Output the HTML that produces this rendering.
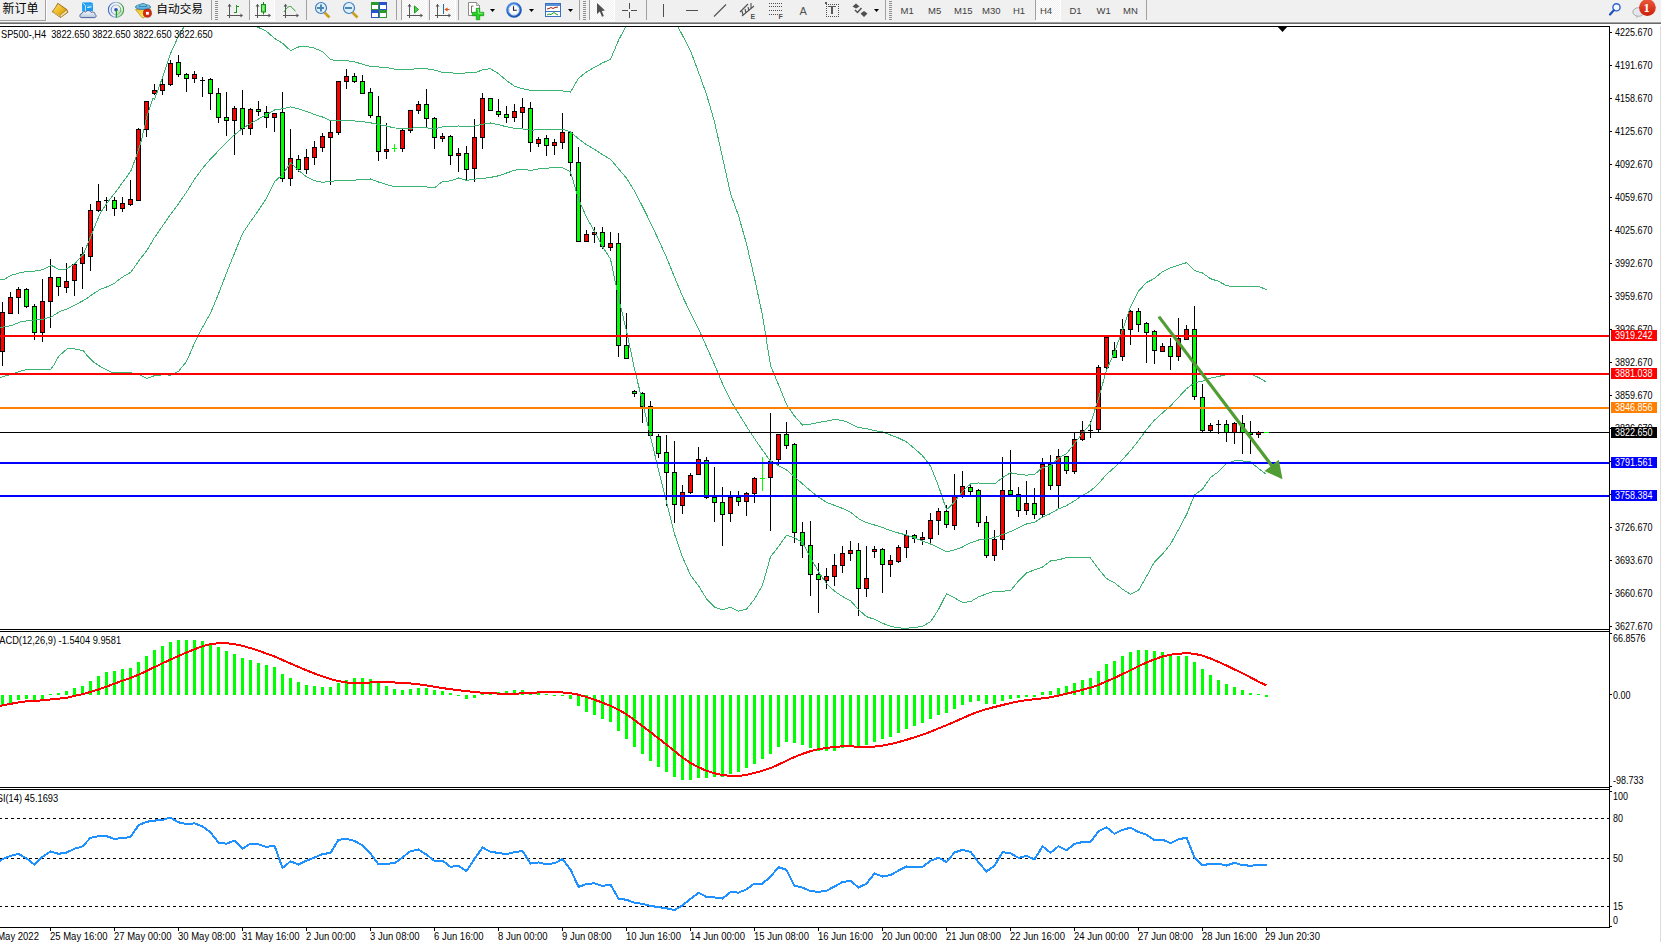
<!DOCTYPE html>
<html><head><meta charset="utf-8"><title>SP500-,H4</title>
<style>html,body{margin:0;padding:0;background:#fff;}body{width:1661px;height:942px;position:relative;overflow:hidden;}svg text{white-space:pre;}</style>
</head><body>
<svg width="1661" height="942" viewBox="0 0 1661 942" shape-rendering="crispEdges" style="position:absolute;left:0;top:0">
<defs><clipPath id="cm"><rect x="0" y="27" width="1609" height="602"/></clipPath><clipPath id="cmacd"><rect x="0" y="632" width="1609" height="155"/></clipPath><clipPath id="crsi"><rect x="0" y="790" width="1609" height="137"/></clipPath></defs>
<g clip-path="url(#cm)">
<rect x="2" y="302" width="1" height="64" fill="#000"/>
<rect x="0" y="312" width="5" height="40" fill="#000"/>
<rect x="1" y="313" width="3" height="38" fill="#ff0000"/>
<rect x="10" y="292" width="1" height="22" fill="#000"/>
<rect x="8" y="297" width="5" height="17" fill="#000"/>
<rect x="9" y="298" width="3" height="15" fill="#ff0000"/>
<rect x="18" y="287" width="1" height="27" fill="#000"/>
<rect x="16" y="289" width="5" height="9" fill="#000"/>
<rect x="17" y="290" width="3" height="7" fill="#ff0000"/>
<rect x="26" y="288" width="1" height="20" fill="#000"/>
<rect x="24" y="289" width="5" height="18" fill="#000"/>
<rect x="25" y="290" width="3" height="16" fill="#00ff00"/>
<rect x="34" y="304" width="1" height="36" fill="#000"/>
<rect x="32" y="306" width="5" height="27" fill="#000"/>
<rect x="33" y="307" width="3" height="25" fill="#00ff00"/>
<rect x="42" y="279" width="1" height="63" fill="#000"/>
<rect x="40" y="301" width="5" height="32" fill="#000"/>
<rect x="41" y="302" width="3" height="30" fill="#ff0000"/>
<rect x="50" y="259" width="1" height="69" fill="#000"/>
<rect x="48" y="277" width="5" height="25" fill="#000"/>
<rect x="49" y="278" width="3" height="23" fill="#ff0000"/>
<rect x="58" y="277" width="1" height="19" fill="#000"/>
<rect x="56" y="277" width="5" height="10" fill="#000"/>
<rect x="57" y="278" width="3" height="8" fill="#00ff00"/>
<rect x="66" y="263" width="1" height="30" fill="#000"/>
<rect x="64" y="281" width="5" height="7" fill="#000"/>
<rect x="65" y="282" width="3" height="5" fill="#ff0000"/>
<rect x="74" y="264" width="1" height="32" fill="#000"/>
<rect x="72" y="264" width="5" height="17" fill="#000"/>
<rect x="73" y="265" width="3" height="15" fill="#ff0000"/>
<rect x="82" y="247" width="1" height="42" fill="#000"/>
<rect x="80" y="254" width="5" height="10" fill="#000"/>
<rect x="81" y="255" width="3" height="8" fill="#ff0000"/>
<rect x="90" y="204" width="1" height="67" fill="#000"/>
<rect x="88" y="210" width="5" height="47" fill="#000"/>
<rect x="89" y="211" width="3" height="45" fill="#ff0000"/>
<rect x="98" y="184" width="1" height="28" fill="#000"/>
<rect x="96" y="201" width="5" height="10" fill="#000"/>
<rect x="97" y="202" width="3" height="8" fill="#ff0000"/>
<rect x="106" y="197" width="1" height="14" fill="#000"/>
<rect x="104" y="200" width="5" height="1" fill="#000"/>
<rect x="114" y="197" width="1" height="19" fill="#000"/>
<rect x="112" y="200" width="5" height="9" fill="#000"/>
<rect x="113" y="201" width="3" height="7" fill="#00ff00"/>
<rect x="122" y="197" width="1" height="15" fill="#000"/>
<rect x="120" y="203" width="5" height="6" fill="#000"/>
<rect x="121" y="204" width="3" height="4" fill="#ff0000"/>
<rect x="130" y="180" width="1" height="26" fill="#000"/>
<rect x="128" y="199" width="5" height="6" fill="#000"/>
<rect x="129" y="200" width="3" height="4" fill="#ff0000"/>
<rect x="138" y="128" width="1" height="73" fill="#000"/>
<rect x="136" y="129" width="5" height="72" fill="#000"/>
<rect x="137" y="130" width="3" height="70" fill="#ff0000"/>
<rect x="146" y="101" width="1" height="36" fill="#000"/>
<rect x="144" y="101" width="5" height="29" fill="#000"/>
<rect x="145" y="102" width="3" height="27" fill="#ff0000"/>
<rect x="154" y="84" width="1" height="11" fill="#000"/>
<rect x="152" y="90" width="5" height="4" fill="#000"/>
<rect x="153" y="91" width="3" height="2" fill="#ff0000"/>
<rect x="162" y="79" width="1" height="16" fill="#000"/>
<rect x="160" y="84" width="5" height="7" fill="#000"/>
<rect x="161" y="85" width="3" height="5" fill="#ff0000"/>
<rect x="170" y="60" width="1" height="26" fill="#000"/>
<rect x="168" y="63" width="5" height="22" fill="#000"/>
<rect x="169" y="64" width="3" height="20" fill="#ff0000"/>
<rect x="178" y="55" width="1" height="22" fill="#000"/>
<rect x="176" y="62" width="5" height="13" fill="#000"/>
<rect x="177" y="63" width="3" height="11" fill="#00ff00"/>
<rect x="186" y="73" width="1" height="19" fill="#000"/>
<rect x="184" y="74" width="5" height="5" fill="#000"/>
<rect x="185" y="75" width="3" height="3" fill="#00ff00"/>
<rect x="194" y="71" width="1" height="12" fill="#000"/>
<rect x="192" y="74" width="5" height="5" fill="#000"/>
<rect x="193" y="75" width="3" height="3" fill="#ff0000"/>
<rect x="202" y="77" width="1" height="20" fill="#000"/>
<rect x="200" y="80" width="5" height="1" fill="#000"/>
<rect x="210" y="78" width="1" height="32" fill="#000"/>
<rect x="208" y="79" width="5" height="15" fill="#000"/>
<rect x="209" y="80" width="3" height="13" fill="#00ff00"/>
<rect x="218" y="88" width="1" height="35" fill="#000"/>
<rect x="216" y="93" width="5" height="25" fill="#000"/>
<rect x="217" y="94" width="3" height="23" fill="#00ff00"/>
<rect x="226" y="92" width="1" height="44" fill="#000"/>
<rect x="224" y="117" width="5" height="4" fill="#000"/>
<rect x="225" y="118" width="3" height="2" fill="#00ff00"/>
<rect x="234" y="106" width="1" height="49" fill="#000"/>
<rect x="232" y="108" width="5" height="13" fill="#000"/>
<rect x="233" y="109" width="3" height="11" fill="#ff0000"/>
<rect x="242" y="90" width="1" height="45" fill="#000"/>
<rect x="240" y="108" width="5" height="21" fill="#000"/>
<rect x="241" y="109" width="3" height="19" fill="#00ff00"/>
<rect x="250" y="108" width="1" height="27" fill="#000"/>
<rect x="248" y="109" width="5" height="20" fill="#000"/>
<rect x="249" y="110" width="3" height="18" fill="#ff0000"/>
<rect x="258" y="101" width="1" height="15" fill="#000"/>
<rect x="256" y="109" width="5" height="3" fill="#000"/>
<rect x="257" y="110" width="3" height="1" fill="#00ff00"/>
<rect x="266" y="106" width="1" height="22" fill="#000"/>
<rect x="264" y="112" width="5" height="6" fill="#000"/>
<rect x="265" y="113" width="3" height="4" fill="#00ff00"/>
<rect x="274" y="113" width="1" height="19" fill="#000"/>
<rect x="272" y="113" width="5" height="5" fill="#000"/>
<rect x="273" y="114" width="3" height="3" fill="#ff0000"/>
<rect x="282" y="92" width="1" height="90" fill="#000"/>
<rect x="280" y="112" width="5" height="67" fill="#000"/>
<rect x="281" y="113" width="3" height="65" fill="#00ff00"/>
<rect x="290" y="129" width="1" height="57" fill="#000"/>
<rect x="288" y="158" width="5" height="21" fill="#000"/>
<rect x="289" y="159" width="3" height="19" fill="#ff0000"/>
<rect x="298" y="155" width="1" height="17" fill="#000"/>
<rect x="296" y="159" width="5" height="11" fill="#000"/>
<rect x="297" y="160" width="3" height="9" fill="#00ff00"/>
<rect x="306" y="149" width="1" height="25" fill="#000"/>
<rect x="304" y="157" width="5" height="13" fill="#000"/>
<rect x="305" y="158" width="3" height="11" fill="#ff0000"/>
<rect x="314" y="141" width="1" height="24" fill="#000"/>
<rect x="312" y="147" width="5" height="11" fill="#000"/>
<rect x="313" y="148" width="3" height="9" fill="#ff0000"/>
<rect x="322" y="133" width="1" height="19" fill="#000"/>
<rect x="320" y="136" width="5" height="12" fill="#000"/>
<rect x="321" y="137" width="3" height="10" fill="#ff0000"/>
<rect x="330" y="121" width="1" height="64" fill="#000"/>
<rect x="328" y="132" width="5" height="6" fill="#000"/>
<rect x="329" y="133" width="3" height="4" fill="#ff0000"/>
<rect x="338" y="81" width="1" height="54" fill="#000"/>
<rect x="336" y="81" width="5" height="52" fill="#000"/>
<rect x="337" y="82" width="3" height="50" fill="#ff0000"/>
<rect x="346" y="69" width="1" height="20" fill="#000"/>
<rect x="344" y="76" width="5" height="6" fill="#000"/>
<rect x="345" y="77" width="3" height="4" fill="#ff0000"/>
<rect x="354" y="73" width="1" height="10" fill="#000"/>
<rect x="352" y="76" width="5" height="6" fill="#000"/>
<rect x="353" y="77" width="3" height="4" fill="#00ff00"/>
<rect x="362" y="75" width="1" height="19" fill="#000"/>
<rect x="360" y="81" width="5" height="13" fill="#000"/>
<rect x="361" y="82" width="3" height="11" fill="#00ff00"/>
<rect x="370" y="88" width="1" height="30" fill="#000"/>
<rect x="368" y="92" width="5" height="24" fill="#000"/>
<rect x="369" y="93" width="3" height="22" fill="#00ff00"/>
<rect x="378" y="96" width="1" height="65" fill="#000"/>
<rect x="376" y="116" width="5" height="36" fill="#000"/>
<rect x="377" y="117" width="3" height="34" fill="#00ff00"/>
<rect x="386" y="123" width="1" height="36" fill="#000"/>
<rect x="384" y="149" width="5" height="3" fill="#000"/>
<rect x="385" y="150" width="3" height="1" fill="#ff0000"/>
<rect x="394" y="144" width="1" height="8" fill="#00ff00"/>
<rect x="392" y="148" width="5" height="1" fill="#00ff00"/>
<rect x="402" y="129" width="1" height="23" fill="#000"/>
<rect x="400" y="130" width="5" height="19" fill="#000"/>
<rect x="401" y="131" width="3" height="17" fill="#ff0000"/>
<rect x="410" y="110" width="1" height="23" fill="#000"/>
<rect x="408" y="110" width="5" height="21" fill="#000"/>
<rect x="409" y="111" width="3" height="19" fill="#ff0000"/>
<rect x="418" y="101" width="1" height="13" fill="#000"/>
<rect x="416" y="104" width="5" height="7" fill="#000"/>
<rect x="417" y="105" width="3" height="5" fill="#ff0000"/>
<rect x="426" y="89" width="1" height="38" fill="#000"/>
<rect x="424" y="104" width="5" height="15" fill="#000"/>
<rect x="425" y="105" width="3" height="13" fill="#00ff00"/>
<rect x="434" y="117" width="1" height="32" fill="#000"/>
<rect x="432" y="118" width="5" height="20" fill="#000"/>
<rect x="433" y="119" width="3" height="18" fill="#00ff00"/>
<rect x="442" y="133" width="1" height="9" fill="#000"/>
<rect x="440" y="136" width="5" height="3" fill="#000"/>
<rect x="441" y="137" width="3" height="1" fill="#ff0000"/>
<rect x="450" y="135" width="1" height="30" fill="#000"/>
<rect x="448" y="136" width="5" height="20" fill="#000"/>
<rect x="449" y="137" width="3" height="18" fill="#00ff00"/>
<rect x="458" y="148" width="1" height="24" fill="#000"/>
<rect x="456" y="153" width="5" height="3" fill="#000"/>
<rect x="457" y="154" width="3" height="1" fill="#ff0000"/>
<rect x="466" y="146" width="1" height="34" fill="#000"/>
<rect x="464" y="153" width="5" height="17" fill="#000"/>
<rect x="465" y="154" width="3" height="15" fill="#00ff00"/>
<rect x="474" y="119" width="1" height="63" fill="#000"/>
<rect x="472" y="137" width="5" height="32" fill="#000"/>
<rect x="473" y="138" width="3" height="30" fill="#ff0000"/>
<rect x="482" y="93" width="1" height="56" fill="#000"/>
<rect x="480" y="98" width="5" height="40" fill="#000"/>
<rect x="481" y="99" width="3" height="38" fill="#ff0000"/>
<rect x="490" y="98" width="1" height="13" fill="#000"/>
<rect x="488" y="98" width="5" height="13" fill="#000"/>
<rect x="489" y="99" width="3" height="11" fill="#00ff00"/>
<rect x="498" y="99" width="1" height="18" fill="#000"/>
<rect x="496" y="111" width="5" height="4" fill="#000"/>
<rect x="497" y="112" width="3" height="2" fill="#00ff00"/>
<rect x="506" y="106" width="1" height="17" fill="#000"/>
<rect x="504" y="114" width="5" height="4" fill="#000"/>
<rect x="505" y="115" width="3" height="2" fill="#00ff00"/>
<rect x="514" y="104" width="1" height="18" fill="#000"/>
<rect x="512" y="111" width="5" height="7" fill="#000"/>
<rect x="513" y="112" width="3" height="5" fill="#ff0000"/>
<rect x="522" y="98" width="1" height="31" fill="#000"/>
<rect x="520" y="107" width="5" height="6" fill="#000"/>
<rect x="521" y="108" width="3" height="4" fill="#ff0000"/>
<rect x="530" y="102" width="1" height="50" fill="#000"/>
<rect x="528" y="108" width="5" height="35" fill="#000"/>
<rect x="529" y="109" width="3" height="33" fill="#00ff00"/>
<rect x="538" y="137" width="1" height="10" fill="#000"/>
<rect x="536" y="139" width="5" height="5" fill="#000"/>
<rect x="537" y="140" width="3" height="3" fill="#ff0000"/>
<rect x="546" y="135" width="1" height="21" fill="#000"/>
<rect x="544" y="138" width="5" height="8" fill="#000"/>
<rect x="545" y="139" width="3" height="6" fill="#00ff00"/>
<rect x="554" y="139" width="1" height="16" fill="#000"/>
<rect x="552" y="142" width="5" height="4" fill="#000"/>
<rect x="553" y="143" width="3" height="2" fill="#ff0000"/>
<rect x="562" y="113" width="1" height="36" fill="#000"/>
<rect x="560" y="132" width="5" height="11" fill="#000"/>
<rect x="561" y="133" width="3" height="9" fill="#ff0000"/>
<rect x="570" y="131" width="1" height="45" fill="#000"/>
<rect x="568" y="132" width="5" height="31" fill="#000"/>
<rect x="569" y="133" width="3" height="29" fill="#00ff00"/>
<rect x="578" y="147" width="1" height="95" fill="#000"/>
<rect x="576" y="162" width="5" height="80" fill="#000"/>
<rect x="577" y="163" width="3" height="78" fill="#00ff00"/>
<rect x="586" y="230" width="1" height="12" fill="#000"/>
<rect x="584" y="234" width="5" height="8" fill="#000"/>
<rect x="585" y="235" width="3" height="6" fill="#ff0000"/>
<rect x="594" y="227" width="1" height="16" fill="#000"/>
<rect x="592" y="232" width="5" height="3" fill="#000"/>
<rect x="593" y="233" width="3" height="1" fill="#ff0000"/>
<rect x="602" y="227" width="1" height="22" fill="#000"/>
<rect x="600" y="232" width="5" height="15" fill="#000"/>
<rect x="601" y="233" width="3" height="13" fill="#00ff00"/>
<rect x="610" y="232" width="1" height="19" fill="#000"/>
<rect x="608" y="243" width="5" height="5" fill="#000"/>
<rect x="609" y="244" width="3" height="3" fill="#ff0000"/>
<rect x="618" y="233" width="1" height="124" fill="#000"/>
<rect x="616" y="243" width="5" height="103" fill="#000"/>
<rect x="617" y="244" width="3" height="101" fill="#00ff00"/>
<rect x="626" y="313" width="1" height="46" fill="#000"/>
<rect x="624" y="345" width="5" height="14" fill="#000"/>
<rect x="625" y="346" width="3" height="12" fill="#00ff00"/>
<rect x="634" y="390" width="1" height="7" fill="#000"/>
<rect x="632" y="391" width="5" height="3" fill="#000"/>
<rect x="633" y="392" width="3" height="1" fill="#00ff00"/>
<rect x="642" y="392" width="1" height="31" fill="#000"/>
<rect x="640" y="393" width="5" height="14" fill="#000"/>
<rect x="641" y="394" width="3" height="12" fill="#00ff00"/>
<rect x="650" y="401" width="1" height="35" fill="#000"/>
<rect x="648" y="406" width="5" height="30" fill="#000"/>
<rect x="649" y="407" width="3" height="28" fill="#00ff00"/>
<rect x="658" y="434" width="1" height="24" fill="#000"/>
<rect x="656" y="436" width="5" height="18" fill="#000"/>
<rect x="657" y="437" width="3" height="16" fill="#00ff00"/>
<rect x="666" y="435" width="1" height="71" fill="#000"/>
<rect x="664" y="452" width="5" height="21" fill="#000"/>
<rect x="665" y="453" width="3" height="19" fill="#00ff00"/>
<rect x="674" y="441" width="1" height="82" fill="#000"/>
<rect x="672" y="472" width="5" height="33" fill="#000"/>
<rect x="673" y="473" width="3" height="31" fill="#00ff00"/>
<rect x="682" y="485" width="1" height="29" fill="#000"/>
<rect x="680" y="492" width="5" height="14" fill="#000"/>
<rect x="681" y="493" width="3" height="12" fill="#ff0000"/>
<rect x="690" y="473" width="1" height="21" fill="#000"/>
<rect x="688" y="475" width="5" height="18" fill="#000"/>
<rect x="689" y="476" width="3" height="16" fill="#ff0000"/>
<rect x="698" y="447" width="1" height="28" fill="#000"/>
<rect x="696" y="459" width="5" height="16" fill="#000"/>
<rect x="697" y="460" width="3" height="14" fill="#ff0000"/>
<rect x="706" y="457" width="1" height="42" fill="#000"/>
<rect x="704" y="460" width="5" height="38" fill="#000"/>
<rect x="705" y="461" width="3" height="36" fill="#00ff00"/>
<rect x="714" y="467" width="1" height="55" fill="#000"/>
<rect x="712" y="497" width="5" height="6" fill="#000"/>
<rect x="713" y="498" width="3" height="4" fill="#00ff00"/>
<rect x="722" y="487" width="1" height="59" fill="#000"/>
<rect x="720" y="502" width="5" height="13" fill="#000"/>
<rect x="721" y="503" width="3" height="11" fill="#00ff00"/>
<rect x="730" y="491" width="1" height="31" fill="#000"/>
<rect x="728" y="497" width="5" height="17" fill="#000"/>
<rect x="729" y="498" width="3" height="15" fill="#ff0000"/>
<rect x="738" y="491" width="1" height="15" fill="#000"/>
<rect x="736" y="497" width="5" height="5" fill="#000"/>
<rect x="737" y="498" width="3" height="3" fill="#00ff00"/>
<rect x="746" y="492" width="1" height="24" fill="#000"/>
<rect x="744" y="493" width="5" height="9" fill="#000"/>
<rect x="745" y="494" width="3" height="7" fill="#ff0000"/>
<rect x="754" y="477" width="1" height="26" fill="#000"/>
<rect x="752" y="478" width="5" height="16" fill="#000"/>
<rect x="753" y="479" width="3" height="14" fill="#ff0000"/>
<rect x="762" y="457" width="1" height="34" fill="#00ff00"/>
<rect x="760" y="478" width="5" height="1" fill="#00ff00"/>
<rect x="770" y="413" width="1" height="118" fill="#000"/>
<rect x="768" y="461" width="5" height="17" fill="#000"/>
<rect x="769" y="462" width="3" height="15" fill="#ff0000"/>
<rect x="778" y="434" width="1" height="31" fill="#000"/>
<rect x="776" y="434" width="5" height="26" fill="#000"/>
<rect x="777" y="435" width="3" height="24" fill="#ff0000"/>
<rect x="786" y="422" width="1" height="27" fill="#000"/>
<rect x="784" y="434" width="5" height="12" fill="#000"/>
<rect x="785" y="435" width="3" height="10" fill="#00ff00"/>
<rect x="794" y="443" width="1" height="100" fill="#000"/>
<rect x="792" y="444" width="5" height="89" fill="#000"/>
<rect x="793" y="445" width="3" height="87" fill="#00ff00"/>
<rect x="802" y="522" width="1" height="36" fill="#000"/>
<rect x="800" y="532" width="5" height="14" fill="#000"/>
<rect x="801" y="533" width="3" height="12" fill="#00ff00"/>
<rect x="810" y="521" width="1" height="75" fill="#000"/>
<rect x="808" y="545" width="5" height="30" fill="#000"/>
<rect x="809" y="546" width="3" height="28" fill="#00ff00"/>
<rect x="818" y="563" width="1" height="50" fill="#000"/>
<rect x="816" y="574" width="5" height="6" fill="#000"/>
<rect x="817" y="575" width="3" height="4" fill="#00ff00"/>
<rect x="826" y="568" width="1" height="21" fill="#000"/>
<rect x="824" y="576" width="5" height="5" fill="#000"/>
<rect x="825" y="577" width="3" height="3" fill="#ff0000"/>
<rect x="834" y="554" width="1" height="32" fill="#000"/>
<rect x="832" y="565" width="5" height="12" fill="#000"/>
<rect x="833" y="566" width="3" height="10" fill="#ff0000"/>
<rect x="842" y="546" width="1" height="27" fill="#000"/>
<rect x="840" y="553" width="5" height="13" fill="#000"/>
<rect x="841" y="554" width="3" height="11" fill="#ff0000"/>
<rect x="850" y="541" width="1" height="20" fill="#000"/>
<rect x="848" y="550" width="5" height="4" fill="#000"/>
<rect x="849" y="551" width="3" height="2" fill="#ff0000"/>
<rect x="858" y="543" width="1" height="73" fill="#000"/>
<rect x="856" y="550" width="5" height="39" fill="#000"/>
<rect x="857" y="551" width="3" height="37" fill="#00ff00"/>
<rect x="866" y="546" width="1" height="51" fill="#000"/>
<rect x="864" y="578" width="5" height="11" fill="#000"/>
<rect x="865" y="579" width="3" height="9" fill="#ff0000"/>
<rect x="874" y="546" width="1" height="12" fill="#000"/>
<rect x="872" y="549" width="5" height="3" fill="#000"/>
<rect x="873" y="550" width="3" height="1" fill="#ff0000"/>
<rect x="882" y="548" width="1" height="45" fill="#000"/>
<rect x="880" y="549" width="5" height="16" fill="#000"/>
<rect x="881" y="550" width="3" height="14" fill="#00ff00"/>
<rect x="890" y="555" width="1" height="22" fill="#000"/>
<rect x="888" y="560" width="5" height="5" fill="#000"/>
<rect x="889" y="561" width="3" height="3" fill="#ff0000"/>
<rect x="898" y="545" width="1" height="18" fill="#000"/>
<rect x="896" y="547" width="5" height="15" fill="#000"/>
<rect x="897" y="548" width="3" height="13" fill="#ff0000"/>
<rect x="906" y="530" width="1" height="28" fill="#000"/>
<rect x="904" y="535" width="5" height="13" fill="#000"/>
<rect x="905" y="536" width="3" height="11" fill="#ff0000"/>
<rect x="914" y="534" width="1" height="9" fill="#000"/>
<rect x="912" y="535" width="5" height="4" fill="#000"/>
<rect x="913" y="536" width="3" height="2" fill="#00ff00"/>
<rect x="922" y="532" width="1" height="13" fill="#000"/>
<rect x="920" y="537" width="5" height="3" fill="#000"/>
<rect x="921" y="538" width="3" height="1" fill="#ff0000"/>
<rect x="930" y="513" width="1" height="30" fill="#000"/>
<rect x="928" y="520" width="5" height="19" fill="#000"/>
<rect x="929" y="521" width="3" height="17" fill="#ff0000"/>
<rect x="938" y="508" width="1" height="27" fill="#000"/>
<rect x="936" y="511" width="5" height="10" fill="#000"/>
<rect x="937" y="512" width="3" height="8" fill="#ff0000"/>
<rect x="946" y="505" width="1" height="23" fill="#000"/>
<rect x="944" y="511" width="5" height="14" fill="#000"/>
<rect x="945" y="512" width="3" height="12" fill="#00ff00"/>
<rect x="954" y="474" width="1" height="56" fill="#000"/>
<rect x="952" y="495" width="5" height="31" fill="#000"/>
<rect x="953" y="496" width="3" height="29" fill="#ff0000"/>
<rect x="962" y="471" width="1" height="27" fill="#000"/>
<rect x="960" y="486" width="5" height="10" fill="#000"/>
<rect x="961" y="487" width="3" height="8" fill="#ff0000"/>
<rect x="970" y="484" width="1" height="11" fill="#000"/>
<rect x="968" y="487" width="5" height="5" fill="#000"/>
<rect x="969" y="488" width="3" height="3" fill="#00ff00"/>
<rect x="978" y="489" width="1" height="38" fill="#000"/>
<rect x="976" y="490" width="5" height="33" fill="#000"/>
<rect x="977" y="491" width="3" height="31" fill="#00ff00"/>
<rect x="986" y="516" width="1" height="42" fill="#000"/>
<rect x="984" y="522" width="5" height="34" fill="#000"/>
<rect x="985" y="523" width="3" height="32" fill="#00ff00"/>
<rect x="994" y="530" width="1" height="31" fill="#000"/>
<rect x="992" y="539" width="5" height="17" fill="#000"/>
<rect x="993" y="540" width="3" height="15" fill="#ff0000"/>
<rect x="1002" y="457" width="1" height="93" fill="#000"/>
<rect x="1000" y="490" width="5" height="50" fill="#000"/>
<rect x="1001" y="491" width="3" height="48" fill="#ff0000"/>
<rect x="1010" y="450" width="1" height="45" fill="#000"/>
<rect x="1008" y="490" width="5" height="5" fill="#000"/>
<rect x="1009" y="491" width="3" height="3" fill="#00ff00"/>
<rect x="1018" y="487" width="1" height="30" fill="#000"/>
<rect x="1016" y="494" width="5" height="17" fill="#000"/>
<rect x="1017" y="495" width="3" height="15" fill="#00ff00"/>
<rect x="1026" y="481" width="1" height="34" fill="#000"/>
<rect x="1024" y="503" width="5" height="8" fill="#000"/>
<rect x="1025" y="504" width="3" height="6" fill="#ff0000"/>
<rect x="1034" y="488" width="1" height="31" fill="#000"/>
<rect x="1032" y="503" width="5" height="12" fill="#000"/>
<rect x="1033" y="504" width="3" height="10" fill="#00ff00"/>
<rect x="1042" y="458" width="1" height="59" fill="#000"/>
<rect x="1040" y="464" width="5" height="51" fill="#000"/>
<rect x="1041" y="465" width="3" height="49" fill="#ff0000"/>
<rect x="1050" y="455" width="1" height="35" fill="#000"/>
<rect x="1048" y="464" width="5" height="22" fill="#000"/>
<rect x="1049" y="465" width="3" height="20" fill="#00ff00"/>
<rect x="1058" y="449" width="1" height="59" fill="#000"/>
<rect x="1056" y="456" width="5" height="30" fill="#000"/>
<rect x="1057" y="457" width="3" height="28" fill="#ff0000"/>
<rect x="1066" y="456" width="1" height="18" fill="#000"/>
<rect x="1064" y="456" width="5" height="15" fill="#000"/>
<rect x="1065" y="457" width="3" height="13" fill="#00ff00"/>
<rect x="1074" y="433" width="1" height="41" fill="#000"/>
<rect x="1072" y="439" width="5" height="33" fill="#000"/>
<rect x="1073" y="440" width="3" height="31" fill="#ff0000"/>
<rect x="1082" y="421" width="1" height="20" fill="#000"/>
<rect x="1080" y="430" width="5" height="10" fill="#000"/>
<rect x="1081" y="431" width="3" height="8" fill="#ff0000"/>
<rect x="1090" y="421" width="1" height="17" fill="#000"/>
<rect x="1088" y="430" width="5" height="1" fill="#000"/>
<rect x="1098" y="365" width="1" height="67" fill="#000"/>
<rect x="1096" y="367" width="5" height="63" fill="#000"/>
<rect x="1097" y="368" width="3" height="61" fill="#ff0000"/>
<rect x="1106" y="336" width="1" height="36" fill="#000"/>
<rect x="1104" y="337" width="5" height="31" fill="#000"/>
<rect x="1105" y="338" width="3" height="29" fill="#ff0000"/>
<rect x="1114" y="342" width="1" height="16" fill="#000"/>
<rect x="1112" y="350" width="5" height="8" fill="#000"/>
<rect x="1113" y="351" width="3" height="6" fill="#00ff00"/>
<rect x="1122" y="319" width="1" height="42" fill="#000"/>
<rect x="1120" y="329" width="5" height="28" fill="#000"/>
<rect x="1121" y="330" width="3" height="26" fill="#ff0000"/>
<rect x="1130" y="310" width="1" height="35" fill="#000"/>
<rect x="1128" y="311" width="5" height="19" fill="#000"/>
<rect x="1129" y="312" width="3" height="17" fill="#ff0000"/>
<rect x="1138" y="308" width="1" height="24" fill="#000"/>
<rect x="1136" y="311" width="5" height="14" fill="#000"/>
<rect x="1137" y="312" width="3" height="12" fill="#00ff00"/>
<rect x="1146" y="322" width="1" height="41" fill="#000"/>
<rect x="1144" y="323" width="5" height="10" fill="#000"/>
<rect x="1145" y="324" width="3" height="8" fill="#00ff00"/>
<rect x="1154" y="330" width="1" height="34" fill="#000"/>
<rect x="1152" y="331" width="5" height="20" fill="#000"/>
<rect x="1153" y="332" width="3" height="18" fill="#00ff00"/>
<rect x="1162" y="343" width="1" height="9" fill="#000"/>
<rect x="1160" y="346" width="5" height="6" fill="#000"/>
<rect x="1161" y="347" width="3" height="4" fill="#ff0000"/>
<rect x="1170" y="338" width="1" height="32" fill="#000"/>
<rect x="1168" y="346" width="5" height="11" fill="#000"/>
<rect x="1169" y="347" width="3" height="9" fill="#00ff00"/>
<rect x="1178" y="318" width="1" height="43" fill="#000"/>
<rect x="1176" y="338" width="5" height="19" fill="#000"/>
<rect x="1177" y="339" width="3" height="17" fill="#ff0000"/>
<rect x="1186" y="325" width="1" height="15" fill="#000"/>
<rect x="1184" y="329" width="5" height="11" fill="#000"/>
<rect x="1185" y="330" width="3" height="9" fill="#ff0000"/>
<rect x="1194" y="306" width="1" height="94" fill="#000"/>
<rect x="1192" y="329" width="5" height="68" fill="#000"/>
<rect x="1193" y="330" width="3" height="66" fill="#00ff00"/>
<rect x="1202" y="384" width="1" height="48" fill="#000"/>
<rect x="1200" y="397" width="5" height="34" fill="#000"/>
<rect x="1201" y="398" width="3" height="32" fill="#00ff00"/>
<rect x="1210" y="423" width="1" height="10" fill="#000"/>
<rect x="1208" y="425" width="5" height="6" fill="#000"/>
<rect x="1209" y="426" width="3" height="4" fill="#ff0000"/>
<rect x="1218" y="420" width="1" height="14" fill="#000"/>
<rect x="1216" y="424" width="5" height="1" fill="#000"/>
<rect x="1226" y="420" width="1" height="22" fill="#000"/>
<rect x="1224" y="424" width="5" height="9" fill="#000"/>
<rect x="1225" y="425" width="3" height="7" fill="#00ff00"/>
<rect x="1234" y="422" width="1" height="22" fill="#000"/>
<rect x="1232" y="423" width="5" height="10" fill="#000"/>
<rect x="1233" y="424" width="3" height="8" fill="#ff0000"/>
<rect x="1242" y="415" width="1" height="39" fill="#000"/>
<rect x="1240" y="423" width="5" height="10" fill="#000"/>
<rect x="1241" y="424" width="3" height="8" fill="#00ff00"/>
<rect x="1250" y="421" width="1" height="33" fill="#000"/>
<rect x="1248" y="432" width="5" height="3" fill="#000"/>
<rect x="1249" y="433" width="3" height="1" fill="#00ff00"/>
<rect x="1258" y="431" width="1" height="7" fill="#000"/>
<rect x="1256" y="432" width="5" height="3" fill="#000"/>
<rect x="1257" y="433" width="3" height="1" fill="#ff0000"/>
<rect x="1266" y="432" width="1" height="1" fill="#00ff00"/>
<rect x="1264" y="432" width="5" height="1" fill="#00ff00"/>
<polyline points="-5.5,281.0 0.5,279.6 4.7,279.0 11.1,275.4 21.7,272.2 34.5,271.1 43.0,269.6 51.5,265.4 59.9,270.0 66.3,269.0 74.8,263.7 83.3,254.1 89.7,239.3 96.0,223.4 100.5,212.7 106.0,204.5 118.4,188.3 130.8,171.1 136.5,155.8 141.3,140.6 147.1,115.7 152.8,98.6 154.5,99.4 162.5,77.4 170.5,53.7 178.5,35.9 186.5,23.0 194.5,15.6 202.5,9.2 210.5,5.1 218.5,7.4 226.5,12.2 234.5,16.3 242.5,23.5 250.5,25.3 258.5,27.5 266.5,31.3 274.5,38.4 282.5,43.1 290.5,50.7 298.5,47.0 306.5,46.4 314.5,48.2 322.5,51.6 330.5,59.6 338.5,60.9 346.5,60.6 354.5,61.9 362.5,64.1 370.5,66.6 378.5,67.0 386.5,67.4 394.5,69.2 402.5,69.3 410.5,69.4 418.5,68.6 426.5,68.7 434.5,70.1 442.5,72.4 450.5,72.6 458.5,73.9 466.5,72.8 474.5,72.9 482.5,69.9 490.5,68.7 498.5,73.6 506.5,80.5 514.5,86.2 522.5,88.8 530.5,90.2 538.5,90.5 546.5,90.7 554.5,90.9 562.5,91.0 570.5,92.0 578.5,78.3 586.5,71.9 594.5,67.3 602.5,62.9 610.5,59.4 618.5,40.3 626.5,25.4 634.5,13.2 642.5,10.9 650.5,8.6 658.5,9.4 666.5,13.2 674.5,20.1 682.5,35.4 690.5,50.9 698.5,72.2 706.5,94.3 714.5,121.9 722.5,157.5 730.5,193.5 738.5,215.6 746.5,243.7 754.5,278.1 762.5,315.4 770.5,365.4 778.5,384.6 786.5,404.6 794.5,416.1 802.5,425.1 810.5,424.2 818.5,422.5 826.5,421.1 834.5,419.6 842.5,420.3 850.5,423.6 858.5,427.6 866.5,428.6 874.5,430.7 882.5,431.8 890.5,435.0 898.5,438.0 906.5,441.9 914.5,448.5 922.5,455.7 930.5,466.1 938.5,486.1 946.5,509.8 954.5,501.9 962.5,491.5 970.5,483.9 978.5,483.0 986.5,483.9 994.5,484.0 1002.5,477.6 1010.5,472.8 1018.5,474.4 1026.5,475.1 1034.5,474.6 1042.5,467.4 1050.5,466.0 1058.5,458.1 1066.5,453.7 1074.5,443.6 1082.5,433.2 1090.5,423.8 1098.5,398.5 1106.5,370.2 1114.5,352.1 1122.5,330.0 1130.5,306.9 1138.5,291.0 1146.5,282.6 1154.5,278.4 1162.5,271.6 1170.5,267.9 1178.5,265.1 1186.5,262.7 1194.5,270.6 1202.5,273.0 1210.5,278.7 1218.5,281.3 1226.5,285.7 1234.5,286.9 1242.5,286.8 1250.5,286.4 1258.5,286.2 1266.5,289.8" fill="none" stroke="#3cb371" stroke-width="1"/>
<polyline points="-5.5,329.0 0.5,327.4 11.1,325.7 21.7,321.4 32.3,320.4 43.0,319.3 51.5,316.8 59.9,311.5 68.5,308.3 76.9,304.0 85.5,299.4 93.9,293.4 100.5,289.2 105.0,287.8 114.6,283.1 122.2,277.3 130.8,272.2 139.4,260.1 147.1,250.0 154.5,237.5 162.5,226.1 170.5,214.4 178.5,203.7 186.5,192.2 194.5,179.3 202.5,168.3 210.5,159.1 218.5,150.7 226.5,142.6 234.5,134.8 242.5,128.5 250.5,123.5 258.5,119.0 266.5,114.8 274.5,110.0 282.5,108.8 290.5,106.8 298.5,108.8 306.5,111.5 314.5,114.4 322.5,117.0 330.5,120.5 338.5,120.8 346.5,120.7 354.5,121.0 362.5,121.7 370.5,122.8 378.5,124.5 386.5,126.0 394.5,128.0 402.5,128.1 410.5,128.1 418.5,127.8 426.5,127.8 434.5,129.0 442.5,126.9 450.5,126.8 458.5,126.0 466.5,126.5 474.5,126.0 482.5,124.2 490.5,123.0 498.5,124.7 506.5,126.8 514.5,128.2 522.5,128.9 530.5,130.3 538.5,129.7 546.5,129.5 554.5,129.2 562.5,129.3 570.5,131.9 578.5,138.8 586.5,144.6 594.5,149.3 602.5,154.8 610.5,159.2 618.5,168.8 626.5,178.2 634.5,191.1 642.5,206.4 650.5,222.7 658.5,239.7 666.5,257.4 674.5,277.1 682.5,296.3 690.5,312.9 698.5,328.9 706.5,346.6 714.5,364.6 722.5,383.6 730.5,400.4 738.5,413.4 746.5,426.4 754.5,438.6 762.5,450.2 770.5,461.1 778.5,465.6 786.5,469.9 794.5,476.9 802.5,483.9 810.5,490.8 818.5,497.1 826.5,502.3 834.5,505.4 842.5,508.4 850.5,512.1 858.5,518.6 866.5,522.6 874.5,525.0 882.5,527.5 890.5,530.6 898.5,533.0 906.5,535.0 914.5,538.0 922.5,541.0 930.5,544.0 938.5,547.8 946.5,551.8 954.5,549.9 962.5,547.0 970.5,542.8 978.5,540.0 986.5,538.9 994.5,537.6 1002.5,534.5 1010.5,531.6 1018.5,527.8 1026.5,524.0 1034.5,522.2 1042.5,517.2 1050.5,513.5 1058.5,508.9 1066.5,505.7 1074.5,500.8 1082.5,495.4 1090.5,490.9 1098.5,483.7 1106.5,474.4 1114.5,467.4 1122.5,459.6 1130.5,450.6 1138.5,440.7 1146.5,429.6 1154.5,420.1 1162.5,412.9 1170.5,406.0 1178.5,397.4 1186.5,388.7 1194.5,382.8 1202.5,381.1 1210.5,378.1 1218.5,376.5 1226.5,374.6 1234.5,373.8 1242.5,373.9 1250.5,374.1 1258.5,377.4 1266.5,382.1" fill="none" stroke="#3cb371" stroke-width="1"/>
<polyline points="-5.5,379.0 0.5,377.3 11.1,374.5 21.7,370.9 28.1,369.2 50.4,369.9 53.5,365.6 58.9,356.0 67.4,348.6 74.8,349.0 83.3,350.7 87.5,356.0 93.9,362.4 100.5,366.7 103.1,368.0 112.7,372.8 128.0,372.2 139.4,374.7 147.1,378.5 154.5,375.6 162.5,374.8 170.5,375.1 178.5,371.4 186.5,361.5 194.5,343.1 202.5,327.4 210.5,313.1 218.5,293.9 226.5,273.0 234.5,253.3 242.5,233.5 250.5,221.6 258.5,210.4 266.5,198.3 274.5,181.7 282.5,174.5 290.5,162.8 298.5,170.5 306.5,176.7 314.5,180.6 322.5,182.4 330.5,181.3 338.5,180.7 346.5,180.8 354.5,180.2 362.5,179.3 370.5,179.0 378.5,182.0 386.5,184.5 394.5,186.7 402.5,186.8 410.5,186.8 418.5,186.9 426.5,186.9 434.5,187.9 442.5,181.4 450.5,180.9 458.5,178.0 466.5,180.3 474.5,179.2 482.5,178.4 490.5,177.4 498.5,175.8 506.5,173.0 514.5,170.3 522.5,169.1 530.5,170.4 538.5,168.9 546.5,168.3 554.5,167.5 562.5,167.6 570.5,171.8 578.5,199.2 586.5,217.2 594.5,231.3 602.5,246.7 610.5,259.0 618.5,297.3 626.5,331.1 634.5,368.9 642.5,402.0 650.5,436.8 658.5,469.9 666.5,501.6 674.5,534.0 682.5,557.2 690.5,575.0 698.5,585.7 706.5,598.8 714.5,607.2 722.5,609.8 730.5,607.3 738.5,611.2 746.5,609.0 754.5,599.2 762.5,585.1 770.5,556.9 778.5,546.6 786.5,535.3 794.5,537.7 802.5,542.6 810.5,557.4 818.5,571.7 826.5,583.5 834.5,591.1 842.5,596.5 850.5,600.7 858.5,609.6 866.5,616.7 874.5,619.3 882.5,623.2 890.5,626.3 898.5,627.9 906.5,628.2 914.5,627.6 922.5,626.3 930.5,621.8 938.5,609.5 946.5,593.7 954.5,597.9 962.5,602.4 970.5,601.7 978.5,596.9 986.5,593.9 994.5,591.2 1002.5,591.3 1010.5,590.5 1018.5,581.1 1026.5,572.9 1034.5,569.9 1042.5,567.1 1050.5,561.0 1058.5,559.8 1066.5,557.7 1074.5,557.9 1082.5,557.6 1090.5,558.0 1098.5,568.9 1106.5,578.5 1114.5,582.8 1122.5,589.2 1130.5,594.3 1138.5,590.4 1146.5,576.5 1154.5,561.8 1162.5,554.2 1170.5,544.1 1178.5,529.7 1186.5,514.7 1194.5,495.0 1202.5,489.2 1210.5,477.5 1218.5,471.7 1226.5,463.5 1234.5,460.7 1242.5,461.0 1250.5,461.8 1258.5,468.5 1266.5,474.4" fill="none" stroke="#3cb371" stroke-width="1"/>
<rect x="0" y="432" width="1609" height="1" fill="#000"/>
<rect x="0" y="335" width="1609" height="2" fill="#ff0000"/>
<rect x="0" y="373" width="1609" height="2" fill="#ff0000"/>
<rect x="0" y="407" width="1609" height="2" fill="#ff8000"/>
<rect x="0" y="462" width="1609" height="2" fill="#0000ff"/>
<rect x="0" y="495" width="1609" height="2" fill="#0000ff"/>
<rect x="1264" y="432" width="5" height="1" fill="#00ff00"/>
<g shape-rendering="geometricPrecision"><line x1="1158.9" y1="316.6" x2="1272" y2="466" stroke="#4f9d33" stroke-width="3.2" stroke-linecap="butt"/><polygon points="1264.5,471 1278.8,459.8 1282.5,479.2" fill="#4f9d33"/></g>
<polygon points="1277,26 1288,26 1282.5,32" fill="#000" shape-rendering="geometricPrecision"/>
</g>
<g clip-path="url(#cmacd)">
<rect x="1" y="695" width="3" height="11" fill="#00ff00"/>
<rect x="9" y="695" width="3" height="8" fill="#00ff00"/>
<rect x="17" y="695" width="3" height="5" fill="#00ff00"/>
<rect x="25" y="695" width="3" height="4" fill="#00ff00"/>
<rect x="33" y="695" width="3" height="5" fill="#00ff00"/>
<rect x="41" y="695" width="3" height="4" fill="#00ff00"/>
<rect x="49" y="694" width="3" height="1" fill="#00ff00"/>
<rect x="57" y="693" width="3" height="2" fill="#00ff00"/>
<rect x="65" y="691" width="3" height="4" fill="#00ff00"/>
<rect x="73" y="688" width="3" height="7" fill="#00ff00"/>
<rect x="81" y="686" width="3" height="9" fill="#00ff00"/>
<rect x="89" y="681" width="3" height="14" fill="#00ff00"/>
<rect x="97" y="676" width="3" height="19" fill="#00ff00"/>
<rect x="105" y="672" width="3" height="23" fill="#00ff00"/>
<rect x="113" y="671" width="3" height="24" fill="#00ff00"/>
<rect x="121" y="669" width="3" height="26" fill="#00ff00"/>
<rect x="129" y="668" width="3" height="27" fill="#00ff00"/>
<rect x="137" y="662" width="3" height="33" fill="#00ff00"/>
<rect x="145" y="656" width="3" height="39" fill="#00ff00"/>
<rect x="153" y="650" width="3" height="45" fill="#00ff00"/>
<rect x="161" y="646" width="3" height="49" fill="#00ff00"/>
<rect x="169" y="642" width="3" height="53" fill="#00ff00"/>
<rect x="177" y="640" width="3" height="55" fill="#00ff00"/>
<rect x="185" y="640" width="3" height="55" fill="#00ff00"/>
<rect x="193" y="640" width="3" height="55" fill="#00ff00"/>
<rect x="201" y="641" width="3" height="54" fill="#00ff00"/>
<rect x="209" y="643" width="3" height="52" fill="#00ff00"/>
<rect x="217" y="647" width="3" height="48" fill="#00ff00"/>
<rect x="225" y="651" width="3" height="44" fill="#00ff00"/>
<rect x="233" y="654" width="3" height="41" fill="#00ff00"/>
<rect x="241" y="658" width="3" height="37" fill="#00ff00"/>
<rect x="249" y="660" width="3" height="35" fill="#00ff00"/>
<rect x="257" y="663" width="3" height="32" fill="#00ff00"/>
<rect x="265" y="665" width="3" height="30" fill="#00ff00"/>
<rect x="273" y="667" width="3" height="28" fill="#00ff00"/>
<rect x="281" y="674" width="3" height="21" fill="#00ff00"/>
<rect x="289" y="678" width="3" height="17" fill="#00ff00"/>
<rect x="297" y="682" width="3" height="13" fill="#00ff00"/>
<rect x="305" y="685" width="3" height="10" fill="#00ff00"/>
<rect x="313" y="686" width="3" height="9" fill="#00ff00"/>
<rect x="321" y="687" width="3" height="8" fill="#00ff00"/>
<rect x="329" y="687" width="3" height="8" fill="#00ff00"/>
<rect x="337" y="683" width="3" height="12" fill="#00ff00"/>
<rect x="345" y="680" width="3" height="15" fill="#00ff00"/>
<rect x="353" y="678" width="3" height="17" fill="#00ff00"/>
<rect x="361" y="678" width="3" height="17" fill="#00ff00"/>
<rect x="369" y="679" width="3" height="16" fill="#00ff00"/>
<rect x="377" y="683" width="3" height="12" fill="#00ff00"/>
<rect x="385" y="686" width="3" height="9" fill="#00ff00"/>
<rect x="393" y="689" width="3" height="6" fill="#00ff00"/>
<rect x="401" y="690" width="3" height="5" fill="#00ff00"/>
<rect x="409" y="689" width="3" height="6" fill="#00ff00"/>
<rect x="417" y="688" width="3" height="7" fill="#00ff00"/>
<rect x="425" y="688" width="3" height="7" fill="#00ff00"/>
<rect x="433" y="690" width="3" height="5" fill="#00ff00"/>
<rect x="441" y="691" width="3" height="4" fill="#00ff00"/>
<rect x="449" y="693" width="3" height="2" fill="#00ff00"/>
<rect x="457" y="695" width="3" height="1" fill="#00ff00"/>
<rect x="465" y="695" width="3" height="4" fill="#00ff00"/>
<rect x="473" y="695" width="3" height="3" fill="#00ff00"/>
<rect x="481" y="694" width="3" height="1" fill="#00ff00"/>
<rect x="489" y="693" width="3" height="2" fill="#00ff00"/>
<rect x="497" y="692" width="3" height="3" fill="#00ff00"/>
<rect x="505" y="691" width="3" height="4" fill="#00ff00"/>
<rect x="513" y="690" width="3" height="5" fill="#00ff00"/>
<rect x="521" y="690" width="3" height="5" fill="#00ff00"/>
<rect x="529" y="692" width="3" height="3" fill="#00ff00"/>
<rect x="537" y="693" width="3" height="2" fill="#00ff00"/>
<rect x="545" y="694" width="3" height="1" fill="#00ff00"/>
<rect x="553" y="695" width="3" height="1" fill="#00ff00"/>
<rect x="561" y="695" width="3" height="1" fill="#00ff00"/>
<rect x="569" y="695" width="3" height="4" fill="#00ff00"/>
<rect x="577" y="695" width="3" height="11" fill="#00ff00"/>
<rect x="585" y="695" width="3" height="17" fill="#00ff00"/>
<rect x="593" y="695" width="3" height="20" fill="#00ff00"/>
<rect x="601" y="695" width="3" height="24" fill="#00ff00"/>
<rect x="609" y="695" width="3" height="27" fill="#00ff00"/>
<rect x="617" y="695" width="3" height="36" fill="#00ff00"/>
<rect x="625" y="695" width="3" height="44" fill="#00ff00"/>
<rect x="633" y="695" width="3" height="52" fill="#00ff00"/>
<rect x="641" y="695" width="3" height="59" fill="#00ff00"/>
<rect x="649" y="695" width="3" height="66" fill="#00ff00"/>
<rect x="657" y="695" width="3" height="72" fill="#00ff00"/>
<rect x="665" y="695" width="3" height="77" fill="#00ff00"/>
<rect x="673" y="695" width="3" height="82" fill="#00ff00"/>
<rect x="681" y="695" width="3" height="85" fill="#00ff00"/>
<rect x="689" y="695" width="3" height="85" fill="#00ff00"/>
<rect x="697" y="695" width="3" height="83" fill="#00ff00"/>
<rect x="705" y="695" width="3" height="83" fill="#00ff00"/>
<rect x="713" y="695" width="3" height="82" fill="#00ff00"/>
<rect x="721" y="695" width="3" height="82" fill="#00ff00"/>
<rect x="729" y="695" width="3" height="79" fill="#00ff00"/>
<rect x="737" y="695" width="3" height="77" fill="#00ff00"/>
<rect x="745" y="695" width="3" height="73" fill="#00ff00"/>
<rect x="753" y="695" width="3" height="69" fill="#00ff00"/>
<rect x="761" y="695" width="3" height="64" fill="#00ff00"/>
<rect x="769" y="695" width="3" height="59" fill="#00ff00"/>
<rect x="777" y="695" width="3" height="52" fill="#00ff00"/>
<rect x="785" y="695" width="3" height="47" fill="#00ff00"/>
<rect x="793" y="695" width="3" height="48" fill="#00ff00"/>
<rect x="801" y="695" width="3" height="50" fill="#00ff00"/>
<rect x="809" y="695" width="3" height="53" fill="#00ff00"/>
<rect x="817" y="695" width="3" height="56" fill="#00ff00"/>
<rect x="825" y="695" width="3" height="56" fill="#00ff00"/>
<rect x="833" y="695" width="3" height="56" fill="#00ff00"/>
<rect x="841" y="695" width="3" height="53" fill="#00ff00"/>
<rect x="849" y="695" width="3" height="51" fill="#00ff00"/>
<rect x="857" y="695" width="3" height="51" fill="#00ff00"/>
<rect x="865" y="695" width="3" height="50" fill="#00ff00"/>
<rect x="873" y="695" width="3" height="47" fill="#00ff00"/>
<rect x="881" y="695" width="3" height="44" fill="#00ff00"/>
<rect x="889" y="695" width="3" height="42" fill="#00ff00"/>
<rect x="897" y="695" width="3" height="38" fill="#00ff00"/>
<rect x="905" y="695" width="3" height="34" fill="#00ff00"/>
<rect x="913" y="695" width="3" height="31" fill="#00ff00"/>
<rect x="921" y="695" width="3" height="28" fill="#00ff00"/>
<rect x="929" y="695" width="3" height="24" fill="#00ff00"/>
<rect x="937" y="695" width="3" height="20" fill="#00ff00"/>
<rect x="945" y="695" width="3" height="18" fill="#00ff00"/>
<rect x="953" y="695" width="3" height="14" fill="#00ff00"/>
<rect x="961" y="695" width="3" height="10" fill="#00ff00"/>
<rect x="969" y="695" width="3" height="7" fill="#00ff00"/>
<rect x="977" y="695" width="3" height="6" fill="#00ff00"/>
<rect x="985" y="695" width="3" height="9" fill="#00ff00"/>
<rect x="993" y="695" width="3" height="9" fill="#00ff00"/>
<rect x="1001" y="695" width="3" height="6" fill="#00ff00"/>
<rect x="1009" y="695" width="3" height="4" fill="#00ff00"/>
<rect x="1017" y="695" width="3" height="3" fill="#00ff00"/>
<rect x="1025" y="695" width="3" height="2" fill="#00ff00"/>
<rect x="1033" y="695" width="3" height="2" fill="#00ff00"/>
<rect x="1041" y="692" width="3" height="3" fill="#00ff00"/>
<rect x="1049" y="691" width="3" height="4" fill="#00ff00"/>
<rect x="1057" y="688" width="3" height="7" fill="#00ff00"/>
<rect x="1065" y="686" width="3" height="9" fill="#00ff00"/>
<rect x="1073" y="683" width="3" height="12" fill="#00ff00"/>
<rect x="1081" y="680" width="3" height="15" fill="#00ff00"/>
<rect x="1089" y="678" width="3" height="17" fill="#00ff00"/>
<rect x="1097" y="671" width="3" height="24" fill="#00ff00"/>
<rect x="1105" y="664" width="3" height="31" fill="#00ff00"/>
<rect x="1113" y="661" width="3" height="34" fill="#00ff00"/>
<rect x="1121" y="656" width="3" height="39" fill="#00ff00"/>
<rect x="1129" y="652" width="3" height="43" fill="#00ff00"/>
<rect x="1137" y="650" width="3" height="45" fill="#00ff00"/>
<rect x="1145" y="650" width="3" height="45" fill="#00ff00"/>
<rect x="1153" y="651" width="3" height="44" fill="#00ff00"/>
<rect x="1161" y="652" width="3" height="43" fill="#00ff00"/>
<rect x="1169" y="655" width="3" height="40" fill="#00ff00"/>
<rect x="1177" y="656" width="3" height="39" fill="#00ff00"/>
<rect x="1185" y="656" width="3" height="39" fill="#00ff00"/>
<rect x="1193" y="662" width="3" height="33" fill="#00ff00"/>
<rect x="1201" y="669" width="3" height="26" fill="#00ff00"/>
<rect x="1209" y="675" width="3" height="20" fill="#00ff00"/>
<rect x="1217" y="680" width="3" height="15" fill="#00ff00"/>
<rect x="1225" y="684" width="3" height="11" fill="#00ff00"/>
<rect x="1233" y="687" width="3" height="8" fill="#00ff00"/>
<rect x="1241" y="690" width="3" height="5" fill="#00ff00"/>
<rect x="1249" y="693" width="3" height="2" fill="#00ff00"/>
<rect x="1257" y="694" width="3" height="1" fill="#00ff00"/>
<rect x="1265" y="695" width="3" height="2" fill="#00ff00"/>
<polyline points="-5.5,706.5 2.5,705.4 10.5,703.9 18.5,702.4 26.5,701.3 34.5,700.9 42.5,700.3 50.5,699.5 58.5,698.7 66.5,697.8 74.5,695.9 82.5,694.1 90.5,692.0 98.5,689.5 106.5,686.6 114.5,683.6 122.5,680.7 130.5,678.0 138.5,674.7 146.5,671.1 154.5,667.1 162.5,663.3 170.5,659.6 178.5,656.0 186.5,652.5 194.5,649.3 202.5,646.2 210.5,644.1 218.5,643.2 226.5,643.2 234.5,644.1 242.5,645.9 250.5,648.1 258.5,650.7 266.5,653.6 274.5,656.5 282.5,660.0 290.5,663.5 298.5,666.9 306.5,670.4 314.5,673.5 322.5,676.4 330.5,679.1 338.5,681.1 346.5,682.5 354.5,682.9 362.5,682.8 370.5,682.5 378.5,682.3 386.5,682.3 394.5,682.5 402.5,682.9 410.5,683.5 418.5,684.3 426.5,685.4 434.5,686.8 442.5,688.1 450.5,689.2 458.5,690.2 466.5,691.2 474.5,692.0 482.5,692.7 490.5,693.2 498.5,693.6 506.5,693.8 514.5,693.8 522.5,693.3 530.5,692.9 538.5,692.4 546.5,692.0 554.5,692.2 562.5,692.5 570.5,693.2 578.5,694.7 586.5,697.0 594.5,699.7 602.5,702.7 610.5,705.8 618.5,709.7 626.5,714.4 634.5,720.0 642.5,726.1 650.5,732.2 658.5,738.3 666.5,744.6 674.5,751.0 682.5,757.5 690.5,763.0 698.5,767.3 706.5,770.7 714.5,773.3 722.5,775.1 730.5,775.9 738.5,775.9 746.5,774.9 754.5,773.0 762.5,770.7 770.5,768.1 778.5,764.6 786.5,760.7 794.5,757.0 802.5,753.8 810.5,751.2 818.5,749.2 826.5,747.9 834.5,746.9 842.5,746.3 850.5,746.3 858.5,746.8 866.5,747.0 874.5,746.6 882.5,745.6 890.5,744.1 898.5,742.1 906.5,739.8 914.5,737.3 922.5,734.8 930.5,731.8 938.5,728.4 946.5,725.2 954.5,721.8 962.5,718.2 970.5,714.7 978.5,711.6 986.5,709.1 994.5,707.0 1002.5,705.0 1010.5,703.1 1018.5,701.4 1026.5,700.1 1034.5,699.3 1042.5,698.3 1050.5,697.3 1058.5,695.6 1066.5,693.7 1074.5,691.8 1082.5,689.8 1090.5,687.6 1098.5,684.9 1106.5,681.4 1114.5,677.9 1122.5,674.1 1130.5,670.2 1138.5,666.2 1146.5,662.5 1154.5,659.3 1162.5,656.5 1170.5,654.7 1178.5,653.7 1186.5,653.2 1194.5,653.8 1202.5,655.7 1210.5,658.5 1218.5,661.9 1226.5,665.5 1234.5,669.4 1242.5,673.3 1250.5,677.4 1258.5,681.7 1266.5,685.5" fill="none" stroke="#ff0000" stroke-width="2"/>
</g>
<g clip-path="url(#crsi)">
<line x1="0" y1="818.5" x2="1609" y2="818.5" stroke="#000" stroke-width="1" stroke-dasharray="3 3" stroke-dashoffset="1"/>
<line x1="0" y1="858.5" x2="1609" y2="858.5" stroke="#000" stroke-width="1" stroke-dasharray="3 3" stroke-dashoffset="1"/>
<line x1="0" y1="906.5" x2="1609" y2="906.5" stroke="#000" stroke-width="1" stroke-dasharray="3 3" stroke-dashoffset="1"/>
<polyline points="-5.5,864.0 2.5,859.3 10.5,855.8 18.5,853.9 26.5,858.4 34.5,864.6 42.5,856.8 50.5,851.4 58.5,853.8 66.5,852.6 74.5,848.7 82.5,846.4 90.5,837.8 98.5,836.2 106.5,836.1 114.5,839.0 122.5,838.0 130.5,837.1 138.5,825.3 146.5,821.8 154.5,820.6 162.5,819.9 170.5,817.6 178.5,822.3 186.5,824.0 194.5,823.4 202.5,826.3 210.5,832.4 218.5,842.5 226.5,843.7 234.5,840.6 242.5,848.7 250.5,843.6 258.5,844.4 266.5,846.9 274.5,845.7 282.5,867.9 290.5,861.4 298.5,864.5 306.5,860.6 314.5,857.5 322.5,854.1 330.5,852.9 338.5,839.8 346.5,838.8 354.5,840.8 362.5,845.5 370.5,853.5 378.5,864.3 386.5,863.7 394.5,863.3 402.5,857.3 410.5,851.2 418.5,849.5 426.5,854.6 434.5,861.0 442.5,860.7 450.5,866.8 458.5,866.0 466.5,871.0 474.5,858.8 482.5,847.6 490.5,851.7 498.5,853.0 506.5,854.1 514.5,852.2 522.5,850.9 530.5,863.5 538.5,862.4 546.5,864.4 554.5,863.2 562.5,859.1 570.5,869.5 578.5,886.8 586.5,884.1 594.5,883.3 602.5,885.9 610.5,884.6 618.5,898.6 626.5,899.8 634.5,902.8 642.5,903.8 650.5,905.9 658.5,907.1 666.5,908.3 674.5,910.1 682.5,905.4 690.5,898.8 698.5,892.8 706.5,896.9 714.5,897.4 722.5,898.6 730.5,892.1 738.5,892.6 746.5,889.4 754.5,883.5 762.5,883.5 770.5,876.7 778.5,867.1 786.5,869.9 794.5,885.8 802.5,887.6 810.5,891.2 818.5,891.8 826.5,890.7 834.5,886.5 842.5,882.1 850.5,880.9 858.5,887.5 866.5,883.7 874.5,873.5 882.5,876.5 890.5,875.1 898.5,870.6 906.5,866.5 914.5,867.3 922.5,866.9 930.5,860.8 938.5,857.7 946.5,862.1 954.5,852.5 962.5,849.9 970.5,851.8 978.5,862.4 986.5,871.4 994.5,865.9 1002.5,852.1 1010.5,853.2 1018.5,857.9 1026.5,856.0 1034.5,859.3 1042.5,846.4 1050.5,852.7 1058.5,846.2 1066.5,850.3 1074.5,843.8 1082.5,842.1 1090.5,842.1 1098.5,831.3 1106.5,827.3 1114.5,833.8 1122.5,829.9 1130.5,827.7 1138.5,832.0 1146.5,834.6 1154.5,840.4 1162.5,839.7 1170.5,843.1 1178.5,839.4 1186.5,837.6 1194.5,857.6 1202.5,865.1 1210.5,863.9 1218.5,863.6 1226.5,865.5 1234.5,862.8 1242.5,865.2 1250.5,865.7 1258.5,865.0 1266.5,865.0" fill="none" stroke="#1e90ff" stroke-width="2"/>
</g>
<rect x="0" y="26" width="1610" height="1" fill="#000"/>
<rect x="0" y="629" width="1610" height="1" fill="#000"/>
<rect x="0" y="631" width="1610" height="1" fill="#000"/>
<rect x="0" y="787" width="1610" height="1" fill="#000"/>
<rect x="0" y="789" width="1610" height="1" fill="#000"/>
<rect x="0" y="927" width="1610" height="1" fill="#000"/>
<rect x="1609" y="26" width="1" height="902" fill="#000"/>
<g style="font-family:'Liberation Sans',Arial,sans-serif;font-size:10px" fill="#000" shape-rendering="crispEdges">
<rect x="1610" y="32" width="2" height="1" fill="#000"/>
<text transform="translate(1615,36) scale(0.9,1)">4225.670</text>
<rect x="1610" y="65" width="2" height="1" fill="#000"/>
<text transform="translate(1615,69) scale(0.9,1)">4191.670</text>
<rect x="1610" y="98" width="2" height="1" fill="#000"/>
<text transform="translate(1615,102) scale(0.9,1)">4158.670</text>
<rect x="1610" y="131" width="2" height="1" fill="#000"/>
<text transform="translate(1615,135) scale(0.9,1)">4125.670</text>
<rect x="1610" y="164" width="2" height="1" fill="#000"/>
<text transform="translate(1615,168) scale(0.9,1)">4092.670</text>
<rect x="1610" y="197" width="2" height="1" fill="#000"/>
<text transform="translate(1615,201) scale(0.9,1)">4059.670</text>
<rect x="1610" y="230" width="2" height="1" fill="#000"/>
<text transform="translate(1615,234) scale(0.9,1)">4025.670</text>
<rect x="1610" y="263" width="2" height="1" fill="#000"/>
<text transform="translate(1615,267) scale(0.9,1)">3992.670</text>
<rect x="1610" y="296" width="2" height="1" fill="#000"/>
<text transform="translate(1615,300) scale(0.9,1)">3959.670</text>
<rect x="1610" y="329" width="2" height="1" fill="#000"/>
<text transform="translate(1615,333) scale(0.9,1)">3926.670</text>
<rect x="1610" y="362" width="2" height="1" fill="#000"/>
<text transform="translate(1615,366) scale(0.9,1)">3892.670</text>
<rect x="1610" y="395" width="2" height="1" fill="#000"/>
<text transform="translate(1615,399) scale(0.9,1)">3859.670</text>
<rect x="1610" y="428" width="2" height="1" fill="#000"/>
<text transform="translate(1615,432) scale(0.9,1)">3826.670</text>
<rect x="1610" y="461" width="2" height="1" fill="#000"/>
<text transform="translate(1615,465) scale(0.9,1)">3792.670</text>
<rect x="1610" y="494" width="2" height="1" fill="#000"/>
<text transform="translate(1615,498) scale(0.9,1)">3759.670</text>
<rect x="1610" y="527" width="2" height="1" fill="#000"/>
<text transform="translate(1615,531) scale(0.9,1)">3726.670</text>
<rect x="1610" y="560" width="2" height="1" fill="#000"/>
<text transform="translate(1615,564) scale(0.9,1)">3693.670</text>
<rect x="1610" y="593" width="2" height="1" fill="#000"/>
<text transform="translate(1615,597) scale(0.9,1)">3660.670</text>
<rect x="1610" y="626" width="2" height="1" fill="#000"/>
<text transform="translate(1615,630) scale(0.9,1)">3627.670</text>
<rect x="1611" y="330" width="46" height="11" fill="#ff0000"/>
<text transform="translate(1615,339) scale(0.9,1)" fill="#fff">3919.242</text>
<rect x="1611" y="368" width="46" height="11" fill="#ff0000"/>
<text transform="translate(1615,377) scale(0.9,1)" fill="#fff">3881.038</text>
<rect x="1611" y="402" width="46" height="11" fill="#ff8000"/>
<text transform="translate(1615,411) scale(0.9,1)" fill="#fff">3846.856</text>
<rect x="1611" y="427" width="46" height="11" fill="#000"/>
<text transform="translate(1615,436) scale(0.9,1)" fill="#fff">3822.650</text>
<rect x="1611" y="457" width="46" height="11" fill="#0000ff"/>
<text transform="translate(1615,466) scale(0.9,1)" fill="#fff">3791.561</text>
<rect x="1611" y="490" width="46" height="11" fill="#0000ff"/>
<text transform="translate(1615,499) scale(0.9,1)" fill="#fff">3758.384</text>
<rect x="1610" y="633" width="2" height="1" fill="#000"/><text transform="translate(1613,642) scale(0.9,1)">66.8576</text>
<rect x="1610" y="694" width="2" height="1" fill="#000"/><text transform="translate(1613,699) scale(0.9,1)">0.00</text>
<rect x="1610" y="786" width="2" height="1" fill="#000"/><text transform="translate(1613,784) scale(0.9,1)">-98.733</text>
<rect x="1610" y="791" width="2" height="1" fill="#000"/><text transform="translate(1613,800) scale(0.9,1)">100</text>
<text transform="translate(1613,822) scale(0.9,1)">80</text><text transform="translate(1613,862) scale(0.9,1)">50</text><text transform="translate(1613,910) scale(0.9,1)">15</text><text transform="translate(1613,924) scale(0.9,1)">0</text>
<rect x="1610" y="926" width="2" height="1" fill="#000"/>
</g>
<g style="font-family:'Liberation Sans',Arial,sans-serif;font-size:10px" fill="#000">
<text transform="translate(1,38) scale(0.923,1)" xml:space="preserve">SP500-,H4  3822.650 3822.650 3822.650 3822.650</text>
<text transform="translate(-8.5,644) scale(0.93,1)">MACD(12,26,9) -1.5404 9.9581</text>
<text transform="translate(-10,802) scale(0.93,1)">RSI(14) 45.1693</text>
</g>
<g style="font-family:'Liberation Sans',Arial,sans-serif;font-size:10px" fill="#000">
<text transform="translate(-16,940) scale(0.95,1)">24 May 2022</text>
<rect x="50" y="928" width="1" height="3" fill="#000"/>
<text transform="translate(50,940) scale(0.95,1)">25 May 16:00</text>
<rect x="114" y="928" width="1" height="3" fill="#000"/>
<text transform="translate(114,940) scale(0.95,1)">27 May 00:00</text>
<rect x="178" y="928" width="1" height="3" fill="#000"/>
<text transform="translate(178,940) scale(0.95,1)">30 May 08:00</text>
<rect x="242" y="928" width="1" height="3" fill="#000"/>
<text transform="translate(242,940) scale(0.95,1)">31 May 16:00</text>
<rect x="306" y="928" width="1" height="3" fill="#000"/>
<text transform="translate(306,940) scale(0.95,1)">2 Jun 00:00</text>
<rect x="370" y="928" width="1" height="3" fill="#000"/>
<text transform="translate(370,940) scale(0.95,1)">3 Jun 08:00</text>
<rect x="434" y="928" width="1" height="3" fill="#000"/>
<text transform="translate(434,940) scale(0.95,1)">6 Jun 16:00</text>
<rect x="498" y="928" width="1" height="3" fill="#000"/>
<text transform="translate(498,940) scale(0.95,1)">8 Jun 00:00</text>
<rect x="562" y="928" width="1" height="3" fill="#000"/>
<text transform="translate(562,940) scale(0.95,1)">9 Jun 08:00</text>
<rect x="626" y="928" width="1" height="3" fill="#000"/>
<text transform="translate(626,940) scale(0.95,1)">10 Jun 16:00</text>
<rect x="690" y="928" width="1" height="3" fill="#000"/>
<text transform="translate(690,940) scale(0.95,1)">14 Jun 00:00</text>
<rect x="754" y="928" width="1" height="3" fill="#000"/>
<text transform="translate(754,940) scale(0.95,1)">15 Jun 08:00</text>
<rect x="818" y="928" width="1" height="3" fill="#000"/>
<text transform="translate(818,940) scale(0.95,1)">16 Jun 16:00</text>
<rect x="882" y="928" width="1" height="3" fill="#000"/>
<text transform="translate(882,940) scale(0.95,1)">20 Jun 00:00</text>
<rect x="946" y="928" width="1" height="3" fill="#000"/>
<text transform="translate(946,940) scale(0.95,1)">21 Jun 08:00</text>
<rect x="1010" y="928" width="1" height="3" fill="#000"/>
<text transform="translate(1010,940) scale(0.95,1)">22 Jun 16:00</text>
<rect x="1074" y="928" width="1" height="3" fill="#000"/>
<text transform="translate(1074,940) scale(0.95,1)">24 Jun 00:00</text>
<rect x="1138" y="928" width="1" height="3" fill="#000"/>
<text transform="translate(1138,940) scale(0.95,1)">27 Jun 08:00</text>
<rect x="1202" y="928" width="1" height="3" fill="#000"/>
<text transform="translate(1202,940) scale(0.95,1)">28 Jun 16:00</text>
<rect x="1266" y="928" width="1" height="3" fill="#000"/>
<text transform="translate(1265,940) scale(0.95,1)">29 Jun 20:30</text>
</g>
<rect x="1660" y="24" width="1" height="918" fill="#dcdcdc"/>
</svg>
<svg width="1661" height="26" viewBox="0 0 1661 26" style="position:absolute;left:0;top:0">
<defs><pattern id="chk" x="0" y="0" width="2" height="2" patternUnits="userSpaceOnUse"><rect width="2" height="2" fill="#f0f0f0"/><rect width="1" height="1" fill="#fff"/><rect x="1" y="1" width="1" height="1" fill="#fff"/></pattern></defs>
<rect x="0" y="0" width="1661" height="21" fill="#f0f0f0"/>
<rect x="0" y="21" width="1661" height="1" fill="#f6f6f6"/>
<rect x="0" y="22" width="1661" height="1" fill="#a0a0a0"/>
<rect x="0" y="23" width="1661" height="1" fill="#6a6a6a"/>
<rect x="0" y="24" width="1661" height="2" fill="#ffffff"/>
<g shape-rendering="crispEdges"><rect x="45" y="0" width="1" height="21" fill="#a0a0a0"/><rect x="0" y="20" width="46" height="1" fill="#a0a0a0"/><rect x="46" y="0" width="1" height="21" fill="#fff"/></g>
<text x="2.4" y="12.8" style="font-family:'Liberation Sans','Noto Sans CJK SC','WenQuanYi Zen Hei',sans-serif;font-size:12px" fill="#000">新订单</text>
<defs><linearGradient id="gold" x1="0" y1="0" x2="1" y2="1"><stop offset="0" stop-color="#f8e070"/><stop offset="0.6" stop-color="#e8b820"/><stop offset="1" stop-color="#c88a10"/></linearGradient><linearGradient id="hatg" x1="0" y1="0" x2="0" y2="1"><stop offset="0" stop-color="#90d0f0"/><stop offset="1" stop-color="#4aa0d8"/></linearGradient><linearGradient id="yel" x1="0" y1="0" x2="1" y2="1"><stop offset="0" stop-color="#f0c020"/><stop offset="1" stop-color="#fff080"/></linearGradient></defs>
<g stroke-linejoin="round"><path d="M52.2,11.7 C54.5,9 56.5,6 57.8,3.3 L66.8,9.5 L68,12.2 L60.5,17.5 Z" fill="#b87818" stroke="#9a6410" stroke-width="0.8"/><path d="M53,11.4 C55,8.8 56.8,6.2 58.1,4.1 L66,9.7 L59.6,15.3 Z" fill="url(#gold)"/><path d="M53,12 L59.6,15.6 L60.3,16.8 L53.6,13 Z" fill="#f6dc90"/><path d="M60.2,15.6 L66.4,10.2 L67.3,12.1 L60.8,16.9 Z" fill="#eee2b0"/></g>
<defs><linearGradient id="cldg" x1="0" y1="0" x2="0" y2="1"><stop offset="0" stop-color="#ffffff"/><stop offset="1" stop-color="#b4c4dc"/></linearGradient><linearGradient id="radg" x1="0" y1="0" x2="1" y2="0"><stop offset="0" stop-color="#3a6ad0"/><stop offset="0.5" stop-color="#a8c0e8"/><stop offset="1" stop-color="#3a9a3a"/></linearGradient></defs>
<g><path d="M82,2.5 L91,2.2 L93,3.6 L93,11 L82.2,11.5 Z" fill="#1a9cf2"/><path d="M82.5,3 L85.4,5.3 L85.4,11" stroke="#d8f0ff" stroke-width="0.9" fill="none"/><path d="M85.4,5.3 L93,4.8" stroke="#60b8f8" stroke-width="0.8" fill="none"/><path d="M87.3,7.4 L91.6,6.8" stroke="#ffffff" stroke-width="1.1" fill="none"/><path d="M81.2,17.6 C79.2,17.6 79.4,13.4 82,13.6 C82.2,11.6 84.6,11 85.6,12.2 C86.4,10.2 90.2,10 91,12.4 C92.6,11.4 95.6,12.4 95.2,14.6 C96.8,15.4 96.2,17.6 94.6,17.6 Z" fill="url(#cldg)" stroke="#3c5a98" stroke-width="0.9"/></g>
<g fill="none"><path d="M116,9.8 L116,17.6 A7.8,7.8 0 0 0 123.6,10.5 Z" fill="#b8e0b0" fill-opacity="0.7" stroke="none"/><circle cx="116" cy="9.8" r="7.6" stroke="url(#radg)" stroke-width="1.1"/><circle cx="116" cy="9.8" r="4.8" stroke="url(#radg)" stroke-width="1" stroke-opacity="0.8"/><circle cx="116" cy="9.8" r="1.8" fill="#2450c8"/><path d="M116.4,10 L116.4,17.6" stroke="#18a018" stroke-width="1.3"/></g>
<g><path d="M135.5,9.5 L150.5,9 L149,12.5 L144,17.8 L142,17.6 Z" fill="url(#yel)" stroke="#c89010" stroke-width="0.8" stroke-linejoin="round"/><ellipse cx="143" cy="7" rx="7.6" ry="2.6" fill="url(#hatg)" stroke="#2a7aa0" stroke-width="0.8"/><path d="M139.3,6.5 C139.3,2.5 146.7,2.5 146.7,6.5 Z" fill="#78c0ea" stroke="#2a7aa0" stroke-width="0.8"/><circle cx="147.4" cy="13.2" r="4.1" fill="#d42a10" stroke="#a81808" stroke-width="0.6"/><rect x="146" y="11.9" width="2.9" height="2.8" fill="#fff"/></g>
<text x="156.3" y="13.4" style="font-family:'Liberation Sans','Noto Sans CJK SC','WenQuanYi Zen Hei',sans-serif;font-size:11.7px" fill="#000">自动交易</text>
<rect x="211" y="0" width="1" height="20" fill="#a0a0a0" shape-rendering="crispEdges"/>
<g shape-rendering="crispEdges"><rect x="215" y="1" width="3" height="1" fill="#909090"/><rect x="215" y="3" width="3" height="1" fill="#909090"/><rect x="215" y="5" width="3" height="1" fill="#909090"/><rect x="215" y="7" width="3" height="1" fill="#909090"/><rect x="215" y="9" width="3" height="1" fill="#909090"/><rect x="215" y="11" width="3" height="1" fill="#909090"/><rect x="215" y="13" width="3" height="1" fill="#909090"/><rect x="215" y="15" width="3" height="1" fill="#909090"/><rect x="215" y="17" width="3" height="1" fill="#909090"/><rect x="215" y="19" width="3" height="1" fill="#909090"/></g>
<g fill="#555" shape-rendering="crispEdges"><rect x="229" y="4" width="1" height="14"/><rect x="227" y="15" width="15" height="1"/></g>
<path d="M229.5,4 l-2,2.5 h4 z M243,15.5 l-2.5,-2 v4 z" fill="#555"/>
<path d="M236,5 v8 M236,6 h2.5 M236,12.5 h-2.5" stroke="#1a9a1a" stroke-width="1" fill="none" shape-rendering="crispEdges"/>
<rect x="249" y="0" width="1" height="20" fill="#a0a0a0" shape-rendering="crispEdges"/>
<g shape-rendering="crispEdges"><rect x="250" y="0" width="24" height="20" fill="url(#chk)"/><rect x="250" y="20" width="25" height="1" fill="#fff"/><rect x="274" y="0" width="1" height="21" fill="#fff"/></g>
<g fill="#555" shape-rendering="crispEdges"><rect x="257" y="4" width="1" height="14"/><rect x="255" y="15" width="15" height="1"/></g>
<path d="M257.5,4 l-2,2.5 h4 z M271,15.5 l-2.5,-2 v4 z" fill="#555"/>
<rect x="263" y="2" width="1" height="12.5" fill="#1a8a1a"/><rect x="261.5" y="4.5" width="4" height="7.5" fill="#50e050" stroke="#1a8a1a" stroke-width="1"/><rect x="262.5" y="5.5" width="1.2" height="5" fill="#a0f8a0"/>
<g fill="#555" shape-rendering="crispEdges"><rect x="285" y="4" width="1" height="14"/><rect x="283" y="15" width="15" height="1"/></g>
<path d="M285.5,4 l-2,2.5 h4 z M299,15.5 l-2.5,-2 v4 z" fill="#555"/>
<path d="M284,12 C287,7 290,5 292,7.5 C293,9 294,10 295.5,11" stroke="#2a9a2a" stroke-width="1" fill="none"/>
<rect x="306" y="0" width="1" height="20" fill="#a0a0a0" shape-rendering="crispEdges"/>
<circle cx="321" cy="8" r="5.5" fill="#dff0fa" stroke="#3a7cc0" stroke-width="1.2"/>
<path d="M324.5,12.5 L329.5,17.5" stroke="#c8a020" stroke-width="2.6" stroke-linecap="butt"/>
<rect x="317" y="7" width="7" height="2" fill="#4a88b0"/>
<rect x="320" y="4.5" width="2" height="7" fill="#4a88b0"/>
<circle cx="349" cy="8" r="5.5" fill="#dff0fa" stroke="#3a7cc0" stroke-width="1.2"/>
<path d="M352.5,12.5 L357.5,17.5" stroke="#c8a020" stroke-width="2.6" stroke-linecap="butt"/>
<rect x="345" y="7" width="7" height="2" fill="#4a88b0"/>
<g shape-rendering="crispEdges"><rect x="371" y="2" width="8" height="8" fill="#2a9a2a"/><rect x="379" y="2" width="8" height="8" fill="#2a50d0"/><rect x="371" y="10" width="8" height="8" fill="#2a50d0"/><rect x="379" y="10" width="8" height="8" fill="#2a9a2a"/><rect x="372" y="5" width="6" height="4" fill="#fff"/><rect x="380" y="5" width="6" height="4" fill="#fff"/><rect x="372" y="13" width="6" height="4" fill="#fff"/><rect x="380" y="13" width="6" height="4" fill="#fff"/></g>
<rect x="396" y="0" width="1" height="20" fill="#a0a0a0" shape-rendering="crispEdges"/>
<rect x="401" y="0" width="1" height="20" fill="#a0a0a0" shape-rendering="crispEdges"/>
<g shape-rendering="crispEdges"><rect x="402" y="0" width="24" height="20" fill="url(#chk)"/><rect x="402" y="20" width="25" height="1" fill="#fff"/><rect x="426" y="0" width="1" height="21" fill="#fff"/></g>
<g fill="#555" shape-rendering="crispEdges"><rect x="409" y="4" width="1" height="14"/><rect x="407" y="15" width="15" height="1"/></g>
<path d="M409.5,4 l-2,2.5 h4 z M423,15.5 l-2.5,-2 v4 z" fill="#555"/>
<path d="M414.5,6 L418.5,9.5 L414.5,13 Z" fill="#50d050" stroke="#1a9a1a" stroke-width="1"/>
<rect x="429" y="0" width="1" height="20" fill="#a0a0a0" shape-rendering="crispEdges"/>
<g shape-rendering="crispEdges"><rect x="430" y="0" width="25" height="20" fill="url(#chk)"/><rect x="430" y="20" width="26" height="1" fill="#fff"/><rect x="455" y="0" width="1" height="21" fill="#fff"/></g>
<g fill="#555" shape-rendering="crispEdges"><rect x="437" y="4" width="1" height="14"/><rect x="435" y="15" width="15" height="1"/></g>
<path d="M437.5,4 l-2,2.5 h4 z M451,15.5 l-2.5,-2 v4 z" fill="#555"/>
<rect x="443" y="4" width="1" height="10" fill="#1a70b0"/><path d="M444.5,9.5 L447.5,7.5 L447.5,9 L449.5,9 L449.5,10 L447.5,10 L447.5,11.5 Z" fill="#e05010"/>
<rect x="458" y="0" width="1" height="20" fill="#a0a0a0" shape-rendering="crispEdges"/>
<path d="M468.5,2.5 L476.5,2.5 L479.5,5.5 L479.5,15.5 L468.5,15.5 Z" fill="#fff" stroke="#8a8a8a" stroke-width="1"/><path d="M476.5,2.5 L476.5,5.5 L479.5,5.5" fill="#e0e0e0" stroke="#8a8a8a" stroke-width="0.8"/><path d="M471.5,6 v7 M471.5,6 h2" stroke="#5a4a3a" stroke-width="0.8" fill="none"/><path d="M476.3,8.3 h3.4 v4 h4 v3.4 h-4 v4 h-3.4 v-4 h-4 v-3.4 h4 z" fill="#28d028" stroke="#10a010" stroke-width="0.8"/><path d="M477.3,9.5 h1.3 v3.8 h4" stroke="#a8f8a8" stroke-width="0.8" fill="none"/>
<path d="M490,9 h5 l-2.5,3 z" fill="#000"/>
<defs><radialGradient id="clkg" cx="0.4" cy="0.35" r="0.7"><stop offset="0" stop-color="#6ab0f8"/><stop offset="1" stop-color="#0a4ab0"/></radialGradient></defs><circle cx="514" cy="10" r="7.8" fill="url(#clkg)"/><circle cx="514" cy="10" r="5.4" fill="#f8fbff" stroke="#9ab8e0" stroke-width="0.5"/><path d="M514,5 v1 M514,14 v1 M509,10 h1 M518,10 h1 M510.5,6.5 l0.6,0.6 M517.5,6.5 l-0.6,0.6 M510.5,13.5 l0.6,-0.6 M517.5,13.5 l-0.6,-0.6" stroke="#a0a0a0" stroke-width="0.7"/><path d="M513.5,6.3 V10.3 H516.8" stroke="#222" stroke-width="1.1" fill="none"/>
<path d="M529,9 h5 l-2.5,3 z" fill="#000"/>
<rect x="545.5" y="3.5" width="15" height="13" fill="#fff" stroke="#3a70c0" stroke-width="1"/><rect x="546" y="4" width="14" height="2" fill="#5a90d8"/><rect x="546" y="11" width="14" height="1" fill="#3a70c0"/><path d="M547,9 L549,8.5 L551,7.5 L553,8.5 L555,7.5 L558,7" stroke="#a02010" stroke-width="1" fill="none"/><path d="M547,15 L549,14 L551,14.5 L554,12.5 L556,14 L558,15" stroke="#20a020" stroke-width="1" fill="none"/>
<path d="M568,9 h5 l-2.5,3 z" fill="#000"/>
<rect x="579" y="0" width="1" height="20" fill="#a0a0a0" shape-rendering="crispEdges"/>
<g shape-rendering="crispEdges"><rect x="583" y="1" width="3" height="1" fill="#909090"/><rect x="583" y="3" width="3" height="1" fill="#909090"/><rect x="583" y="5" width="3" height="1" fill="#909090"/><rect x="583" y="7" width="3" height="1" fill="#909090"/><rect x="583" y="9" width="3" height="1" fill="#909090"/><rect x="583" y="11" width="3" height="1" fill="#909090"/><rect x="583" y="13" width="3" height="1" fill="#909090"/><rect x="583" y="15" width="3" height="1" fill="#909090"/><rect x="583" y="17" width="3" height="1" fill="#909090"/><rect x="583" y="19" width="3" height="1" fill="#909090"/></g>
<g shape-rendering="crispEdges"><rect x="589" y="0" width="25" height="20" fill="url(#chk)"/><rect x="589" y="20" width="26" height="1" fill="#fff"/><rect x="614" y="0" width="1" height="21" fill="#fff"/></g>
<rect x="589" y="0" width="1" height="20" fill="#a0a0a0" shape-rendering="crispEdges"/>
<path d="M597,3 L597,14 L599.8,11.6 L602,16.8 L603.8,16 L601.8,11 L605,10.5 Z" fill="#505050"/>
<g fill="#505050" shape-rendering="crispEdges"><rect x="629" y="3" width="1" height="6"/><rect x="629" y="12" width="1" height="6"/><rect x="622" y="10" width="6" height="1"/><rect x="631" y="10" width="6" height="1"/></g>
<rect x="646" y="0" width="1" height="20" fill="#a0a0a0" shape-rendering="crispEdges"/>
<rect x="663" y="4" width="1" height="13" fill="#505050" shape-rendering="crispEdges"/>
<rect x="686" y="10" width="12" height="1" fill="#505050" shape-rendering="crispEdges"/>
<path d="M714,16.5 L726,4.5" stroke="#505050" stroke-width="1.1"/>
<path d="M740,12 L748,4 M742,16 L754,6 M742,11 L743,15 M745,9 L746,13 M748,7 L749,11 M751,3 L751,9" stroke="#505050" stroke-width="1.1" fill="none"/><text x="750.5" y="19" style="font-family:'Liberation Sans',Arial,sans-serif;font-size:7px;font-weight:bold" fill="#505050">E</text>
<g fill="#505050" shape-rendering="crispEdges"><rect x="769" y="3" width="1" height="1"/><rect x="771" y="3" width="1" height="1"/><rect x="773" y="3" width="1" height="1"/><rect x="775" y="3" width="1" height="1"/><rect x="777" y="3" width="1" height="1"/><rect x="779" y="3" width="1" height="1"/><rect x="781" y="3" width="1" height="1"/><rect x="769" y="6" width="1" height="1"/><rect x="771" y="6" width="1" height="1"/><rect x="773" y="6" width="1" height="1"/><rect x="775" y="6" width="1" height="1"/><rect x="777" y="6" width="1" height="1"/><rect x="779" y="6" width="1" height="1"/><rect x="781" y="6" width="1" height="1"/><rect x="769" y="10" width="1" height="1"/><rect x="771" y="10" width="1" height="1"/><rect x="773" y="10" width="1" height="1"/><rect x="775" y="10" width="1" height="1"/><rect x="777" y="10" width="1" height="1"/><rect x="779" y="10" width="1" height="1"/><rect x="781" y="10" width="1" height="1"/><rect x="769" y="14" width="1" height="1"/><rect x="771" y="14" width="1" height="1"/><rect x="773" y="14" width="1" height="1"/><rect x="775" y="14" width="1" height="1"/><rect x="777" y="14" width="1" height="1"/></g>
<text x="778.5" y="19" style="font-family:'Liberation Sans',Arial,sans-serif;font-size:7px;font-weight:bold" fill="#505050">F</text>
<text x="799.5" y="15" style="font-family:'Liberation Sans',Arial,sans-serif;font-size:11px" fill="#505050">A</text>
<g fill="#505050" shape-rendering="crispEdges"><rect x="826" y="4" width="1" height="1"/><rect x="826" y="16" width="1" height="1"/><rect x="828" y="4" width="1" height="1"/><rect x="828" y="16" width="1" height="1"/><rect x="830" y="4" width="1" height="1"/><rect x="830" y="16" width="1" height="1"/><rect x="832" y="4" width="1" height="1"/><rect x="832" y="16" width="1" height="1"/><rect x="834" y="4" width="1" height="1"/><rect x="834" y="16" width="1" height="1"/><rect x="836" y="4" width="1" height="1"/><rect x="836" y="16" width="1" height="1"/><rect x="838" y="4" width="1" height="1"/><rect x="838" y="16" width="1" height="1"/><rect x="826" y="4" width="1" height="1"/><rect x="838" y="4" width="1" height="1"/><rect x="826" y="6" width="1" height="1"/><rect x="838" y="6" width="1" height="1"/><rect x="826" y="8" width="1" height="1"/><rect x="838" y="8" width="1" height="1"/><rect x="826" y="10" width="1" height="1"/><rect x="838" y="10" width="1" height="1"/><rect x="826" y="12" width="1" height="1"/><rect x="838" y="12" width="1" height="1"/><rect x="826" y="14" width="1" height="1"/><rect x="838" y="14" width="1" height="1"/><rect x="826" y="16" width="1" height="1"/><rect x="838" y="16" width="1" height="1"/></g>
<g fill="#585858" shape-rendering="crispEdges"><rect x="828" y="6" width="8" height="1"/><rect x="831" y="6" width="2" height="8"/><rect x="825" y="2" width="2" height="2"/></g>
<path d="M852.5,6.5 L856,3.5 L859.5,6.5 L856,8.5 Z M860.5,13.5 L864,11 L867.5,13.5 L864,17 Z" fill="#505050"/><path d="M855,10 L857.5,12.5 L861.5,8" stroke="#505050" stroke-width="1.5" fill="none"/>
<path d="M874,9 h5 l-2.5,3 z" fill="#000"/>
<rect x="885" y="0" width="1" height="20" fill="#a0a0a0" shape-rendering="crispEdges"/>
<g shape-rendering="crispEdges"><rect x="889" y="1" width="3" height="1" fill="#909090"/><rect x="889" y="3" width="3" height="1" fill="#909090"/><rect x="889" y="5" width="3" height="1" fill="#909090"/><rect x="889" y="7" width="3" height="1" fill="#909090"/><rect x="889" y="9" width="3" height="1" fill="#909090"/><rect x="889" y="11" width="3" height="1" fill="#909090"/><rect x="889" y="13" width="3" height="1" fill="#909090"/><rect x="889" y="15" width="3" height="1" fill="#909090"/><rect x="889" y="17" width="3" height="1" fill="#909090"/><rect x="889" y="19" width="3" height="1" fill="#909090"/></g>
<rect x="1035" y="0" width="1" height="20" fill="#a0a0a0" shape-rendering="crispEdges"/>
<g shape-rendering="crispEdges"><rect x="1036" y="0" width="24" height="20" fill="url(#chk)"/><rect x="1036" y="20" width="25" height="1" fill="#fff"/><rect x="1060" y="0" width="1" height="21" fill="#fff"/></g>
<rect x="1146" y="0" width="1" height="20" fill="#a0a0a0" shape-rendering="crispEdges"/>
<text x="900.5" y="14" style="font-family:'Liberation Sans',Arial,sans-serif;font-size:9.5px" fill="#404040">M1</text>
<text x="928.0" y="14" style="font-family:'Liberation Sans',Arial,sans-serif;font-size:9.5px" fill="#404040">M5</text>
<text x="954.0" y="14" style="font-family:'Liberation Sans',Arial,sans-serif;font-size:9.5px" fill="#404040">M15</text>
<text x="982.0" y="14" style="font-family:'Liberation Sans',Arial,sans-serif;font-size:9.5px" fill="#404040">M30</text>
<text x="1013.0" y="14" style="font-family:'Liberation Sans',Arial,sans-serif;font-size:9.5px" fill="#404040">H1</text>
<text x="1040.0" y="14" style="font-family:'Liberation Sans',Arial,sans-serif;font-size:9.5px" fill="#404040">H4</text>
<text x="1069.5" y="14" style="font-family:'Liberation Sans',Arial,sans-serif;font-size:9.5px" fill="#404040">D1</text>
<text x="1096.5" y="14" style="font-family:'Liberation Sans',Arial,sans-serif;font-size:9.5px" fill="#404040">W1</text>
<text x="1123.0" y="14" style="font-family:'Liberation Sans',Arial,sans-serif;font-size:9.5px" fill="#404040">MN</text>
<circle cx="1616.5" cy="7.3" r="3.6" fill="#f8f8ff" stroke="#2a60d0" stroke-width="1.4"/><path d="M1613.8,10.2 L1610,14.5" stroke="#2050c0" stroke-width="2.2" stroke-linecap="round"/>
<ellipse cx="1638.5" cy="12" rx="5.6" ry="4.3" fill="#e4e6ee" stroke="#a0a0a0" stroke-width="0.9"/><path d="M1636,15.5 L1636.5,18.5 L1639,16" fill="#c0c0c0"/><defs><linearGradient id="bdg" x1="0" y1="0" x2="0" y2="1"><stop offset="0" stop-color="#ea5a3a"/><stop offset="1" stop-color="#cc1e08"/></linearGradient></defs><circle cx="1647.4" cy="7.6" r="8.4" fill="url(#bdg)"/><text x="1646.6" y="11.8" text-anchor="middle" style="font-family:'Liberation Serif',serif;font-size:12.5px;font-weight:bold" fill="#fff">1</text>
</svg>
</body></html>
